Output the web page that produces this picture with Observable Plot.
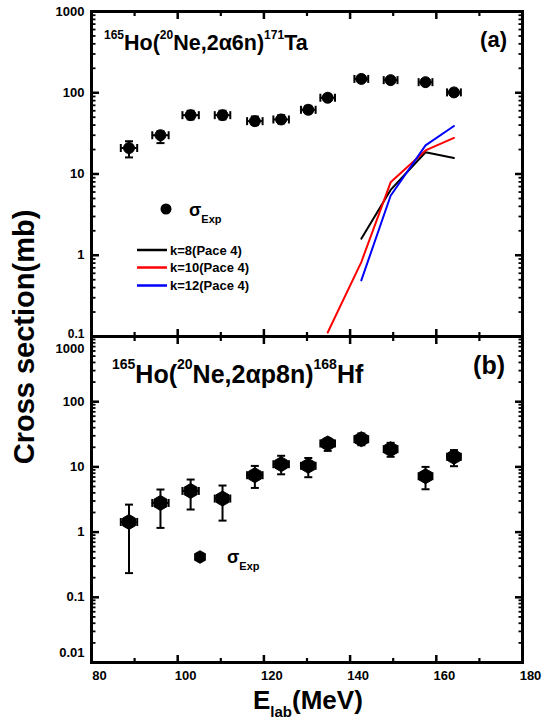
<!DOCTYPE html>
<html><head><meta charset="utf-8">
<script src="https://cdn.jsdelivr.net/npm/d3@7"></script>
<script src="https://cdn.jsdelivr.net/npm/@observablehq/plot@0.6"></script>
<style>
body{margin:0;background:#fff;}
#wrap{position:relative;width:545px;height:722px;overflow:hidden;background:#fff}
#wrap svg{position:absolute;left:0;top:0;overflow:visible}
</style></head><body><div id="wrap"></div>
<script>
// ---- data ----
const energy    = [88.7, 96.0, 103.0, 110.4, 117.9, 124.0, 130.3, 134.8, 142.6, 149.4, 157.5, 164.1];
const energyErr = [1.9, 1.9, 1.9, 1.8, 1.8, 1.8, 1.7, 1.7, 1.6, 1.6, 1.6, 1.6];
// (a) 171Ta
const taSigma = [20.9, 30.0, 53, 53, 44.7, 46.9, 61.7, 86.8, 148, 143, 135, 101];
const taLow   = [16, 24, 47, 47, 40, 42, 56, 80, 138, 134, 126, 94];
const taHigh  = [25.3, 33.6, 60, 60, 51, 53, 69, 95, 160, 154, 146, 110];
// (b) 168Hf
const hfSigma = [1.43, 2.8, 4.28, 3.27, 7.46, 11.0, 10.4, 22.9, 26.6, 18.7, 7.2, 14.3];
const hfLow   = [0.235, 1.16, 2.22, 1.5, 4.76, 7.7, 6.95, 17.6, 21.5, 14.3, 4.54, 10.25];
const hfHigh  = [2.64, 4.5, 6.4, 5.18, 10.35, 14.8, 13.7, 27.3, 32.6, 23.4, 10.0, 18.1];
// PACE4 calculations
const paceEnergy = [134.8, 142.6, 149.4, 157.5, 164.1];
const paceK8  = [null, 1.60, 6.37, 18.5, 15.7];
const paceK10 = [0.112, 0.824, 7.9, 19.5, 27.8];
const paceK12 = [null, 0.49, 5.4, 22.5, 39];
const paceNames = ["k=8(Pace 4)", "k=10(Pace 4)", "k=12(Pace 4)"];
const paceColors = ["#000000", "#ff0000", "#0000ff"];
// ticks
const xTicks = [80, 100, 120, 140, 160, 180];
const xMinor = [90, 110, 130, 150, 170];
const yTicksA = [0.1, 1, 10, 100, 1000];
const yTicksB = [0.01, 0.1, 1, 10, 100, 1000];
const minorMult = [2, 3, 4, 5, 6, 7, 8, 9];

const W = 545, H = 722, L = 91, R = 23;
const font = "'Liberation Sans', Arial, sans-serif";

function minors(majors) {
  const out = [];
  for (let i = 0; i < majors.length - 1; i++) for (const m of minorMult) out.push(majors[i] * m);
  return out;
}
function rows(sig, lo, hi) {
  return energy.map((e, i) => ({e, v: sig[i], lo: lo[i], hi: hi[i], xlo: e - energyErr[i], xhi: e + energyErr[i]}));
}
const paceRows = paceEnergy.map((e, i) => ({e, k8: paceK8[i], k10: paceK10[i], k12: paceK12[i]}));

// custom symbols (r = half length or full length in px)
const sym = (f) => ({draw(ctx, size) { f(ctx, Math.sqrt(size / Math.PI)); }});
const hCap = sym((c, r) => { c.moveTo(-r, 0); c.lineTo(r, 0); });
const vCap = sym((c, r) => { c.moveTo(0, -r); c.lineTo(0, r); });
const tUp = sym((c, r) => { c.moveTo(0, 0); c.lineTo(0, -r); });
const tDown = sym((c, r) => { c.moveTo(0, 0); c.lineTo(0, r); });
const tRight = sym((c, r) => { c.moveTo(0, 0); c.lineTo(r, 0); });
const tLeft = sym((c, r) => { c.moveTo(0, 0); c.lineTo(-r, 0); });

// inward-pointing ticks on all four sides
function frameAxes(yTicks) {
  const ym = minors(yTicks);
  const id = d => d;
  const t = (data, ch, anchor, symbol, r, sw) =>
    Plot.dot(data, {[ch]: id, frameAnchor: anchor, symbol, r, stroke: "black", strokeWidth: sw, fill: "none"});
  return [
    Plot.frame({strokeWidth: 3}),
    t(xTicks, "x", "bottom", tUp, 7.5, 2.5),
    t(xTicks, "x", "top", tDown, 7.5, 2.5),
    t(xMinor, "x", "bottom", tUp, 4.5, 2.2),
    t(xMinor, "x", "top", tDown, 4.5, 2.2),
    t(yTicks, "y", "left", tRight, 7.5, 2.5),
    t(yTicks, "y", "right", tLeft, 7.5, 2.5),
    t(ym, "y", "left", tRight, 4, 1.8),
    t(ym, "y", "right", tLeft, 4, 1.8)
  ];
}
function errorMarks(data, symbol, r) {
  return [
    Plot.ruleX(data, {x: "e", y1: "lo", y2: "hi", strokeWidth: 2}),
    Plot.ruleY(data, {y: "v", x1: "xlo", x2: "xhi", strokeWidth: 2}),
    Plot.dot(data, {x: "e", y: "lo", symbol: hCap, r: 4, stroke: "black", strokeWidth: 2}),
    Plot.dot(data, {x: "e", y: "hi", symbol: hCap, r: 4, stroke: "black", strokeWidth: 2}),
    Plot.dot(data, {x: "xlo", y: "v", symbol: vCap, r: 4, stroke: "black", strokeWidth: 2}),
    Plot.dot(data, {x: "xhi", y: "v", symbol: vCap, r: 4, stroke: "black", strokeWidth: 2}),
    Plot.dot(data, {x: "e", y: "v", symbol, r, fill: "black", stroke: "black", strokeWidth: 1})
  ];
}
const style = {background: "transparent", overflow: "visible", fontFamily: font, fontWeight: "bold", fontSize: "13px", color: "black"};
const fmt = d => String(d);

const plotA = Plot.plot({
  width: W, height: H,
  marginLeft: L, marginRight: R, marginTop: 11, marginBottom: H - 336,
  style,
  x: {domain: [80, 180], axis: null},
  y: {type: "log", domain: [0.1, 1000], axis: null},
  marks: [
    ...frameAxes(yTicksA),
    Plot.axisY(yTicksA.slice(1), {anchor: "left", tickSize: 0, tickPadding: 7, tickFormat: fmt, fontSize: 13, label: null}),
    Plot.axisY([yTicksA[0]], {anchor: "left", tickSize: 0, tickPadding: 7, dy: -2, tickFormat: fmt, fontSize: 12, label: null}),
    ...errorMarks(rows(taSigma, taLow, taHigh), "circle", 5.5),
    Plot.line(paceRows, {x: "e", y: "k8", stroke: paceColors[0], strokeWidth: 2}),
    Plot.line(paceRows, {x: "e", y: "k10", stroke: paceColors[1], strokeWidth: 2}),
    Plot.line(paceRows, {x: "e", y: "k12", stroke: paceColors[2], strokeWidth: 2})
  ]
});

const midB = yTicksB.slice(1, -1);
const plotB = Plot.plot({
  width: W, height: H,
  marginLeft: L, marginRight: R, marginTop: 336, marginBottom: H - 662,
  style,
  x: {domain: [80, 180], axis: null},
  y: {type: "log", domain: [0.01, 1000], axis: null},
  marks: [
    ...frameAxes(yTicksB),
    Plot.axisY(midB, {anchor: "left", tickSize: 0, tickPadding: 7, tickFormat: fmt, fontSize: 13, label: null}),
    Plot.axisY([yTicksB[yTicksB.length - 1]], {anchor: "left", tickSize: 0, tickPadding: 7, dy: 12, tickFormat: fmt, fontSize: 13, label: null}),
    Plot.axisY([yTicksB[0]], {anchor: "left", tickSize: 0, tickPadding: 7, dy: -10, tickFormat: fmt, fontSize: 13, label: null}),
    Plot.axisX(xTicks, {anchor: "bottom", tickSize: 0, tickPadding: 8, dx: 8, tickFormat: fmt, fontSize: 13, label: null}),
    ...errorMarks(rows(hfSigma, hfLow, hfHigh), "hexagon", 6.5)
  ]
});

const wrap = document.getElementById("wrap");
wrap.appendChild(plotA);
wrap.appendChild(plotB);

// ---- annotations (rich text) ----
const svg = d3.select(plotB);
function rich(x, y, parts, size, opts = {}) {
  const t = svg.append("text").attr("x", x).attr("y", y)
    .attr("font-family", font).attr("font-weight", "bold").attr("font-size", size)
    .attr("fill", "black").attr("text-anchor", opts.anchor || "start");
  if (opts.rotate) t.attr("transform", `rotate(${opts.rotate},${x},${y})`);
  let shift = 0;
  for (const p of parts) {
    const target = p.sup ? -p.sup : p.sub ? p.sub : 0;
    const ts = t.append("tspan").attr("dy", target - shift).text(p.t);
    if (p.fs) ts.attr("font-size", p.fs);
    shift = target;
  }
  return t;
}
rich(104, 50, [{t: "165", sup: 11.5, fs: 12}, {t: "Ho("}, {t: "20", sup: 11.5, fs: 12}, {t: "Ne,2α6n)"}, {t: "171", sup: 11.5, fs: 12}, {t: "Ta"}], 21.5);
rich(507, 47, [{t: "(a)"}], 22, {anchor: "end"});
rich(112, 383, [{t: "165", sup: 14, fs: 14}, {t: "Ho("}, {t: "20", sup: 14, fs: 14}, {t: "Ne,2αp8n)"}, {t: "168", sup: 14, fs: 14}, {t: "Hf"}], 25);
rich(505, 374, [{t: "(b)"}], 25, {anchor: "end"});

// legend (a)
svg.append("circle").attr("cx", 166).attr("cy", 209).attr("r", 5.5).attr("fill", "black");
rich(189, 216, [{t: "σ"}, {t: "Exp", sub: 7, fs: 11}], 18);
paceNames.forEach((n, i) => {
  const y = [250, 267.5, 285.5][i];
  svg.append("line").attr("x1", 137).attr("x2", 167).attr("y1", y).attr("y2", y)
    .attr("stroke", paceColors[i]).attr("stroke-width", 2.5);
  rich(170, y + 4.5, [{t: n}], 13);
});
// legend (b): hexagon marker
const hexR = 6.8;
const hexPts = d3.range(6).map(k => {
  const a = Math.PI / 2 + k * Math.PI / 3;
  return [200 + hexR * Math.cos(a), 557 + hexR * Math.sin(a)];
});
svg.append("path").attr("d", "M" + hexPts.map(p => p.join(",")).join("L") + "Z").attr("fill", "black");
rich(227, 563, [{t: "σ"}, {t: "Exp", sub: 7, fs: 11}], 18);

// axis titles
rich(34, 337, [{t: "Cross section(mb)"}], 29, {anchor: "middle", rotate: -90});
rich(253, 709, [{t: "E"}, {t: "lab", sub: 8, fs: 15}, {t: "(MeV)"}], 26);
</script></body></html>
